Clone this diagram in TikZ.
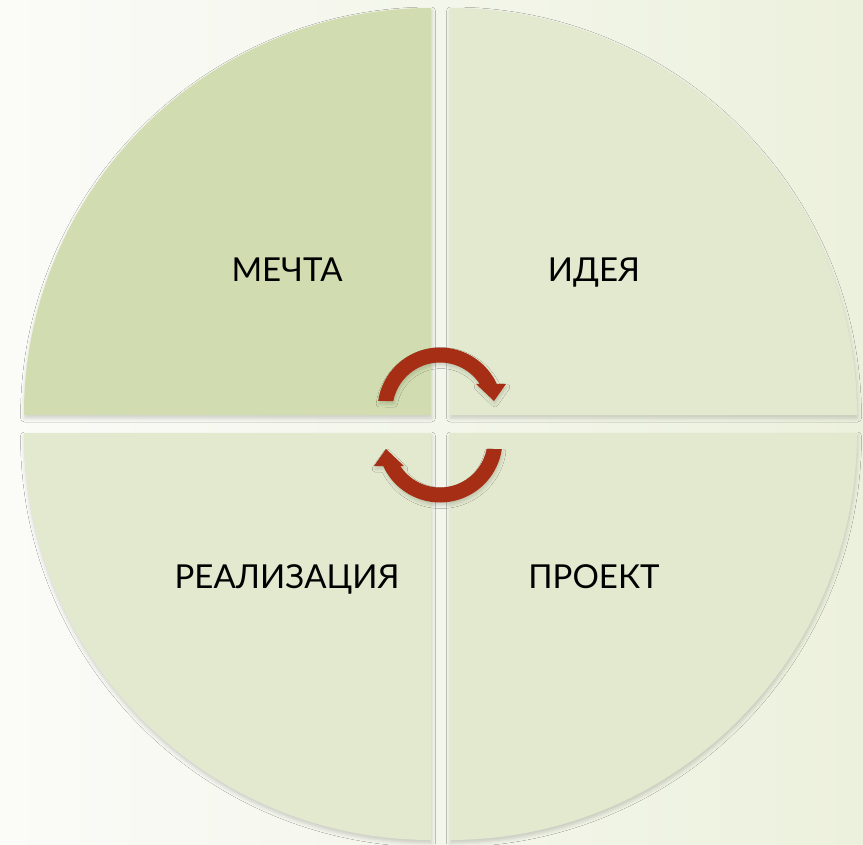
\documentclass[tikz,border=0pt]{standalone}
\usepackage{fontspec}
\setmainfont{Lato}
\usepackage{tikz}
\usetikzlibrary{shadows.blur}
\definecolor{bgleft}{RGB}{251, 251, 248}
\definecolor{bgright}{RGB}{236, 241, 221}
\definecolor{sectordark}{RGB}{209, 221, 177}
\definecolor{sectorlight}{RGB}{227, 233, 207}
\definecolor{cyclered}{RGB}{166, 46, 20}

\tikzset{
    sector/.style={fill=sectorlight, blur shadow={shadow xshift=0.5pt, shadow yshift=-3pt, shadow blur radius=4pt, shadow opacity=18}},
    phase/.style={font=\fontsize{33}{40}\selectfont, text=black, anchor=base},
    cyclearrow/.style={fill=cyclered, blur shadow={shadow xshift=1pt, shadow yshift=-3pt, shadow blur radius=3pt, shadow opacity=15}}
}

\begin{document}
\begin{tikzpicture}[x=1pt, y=-1pt]
        \useasboundingbox (0,0) rectangle (863,845);
        \shade[left color=bgleft, right color=bgright] (0,0) rectangle (863,845);
        
        \coordinate (tl) at (431,415);
        \coordinate (tr) at (450,415);
        \coordinate (bl) at (431,433);
        \coordinate (br) at (450,433);
        \def\rad{407}
        
        % Quarti del cerchio
        \path[sector, fill=sectordark] (tl) -- ++(-\rad,0) arc[start angle=180, end angle=270, radius=\rad] -- cycle;
        \path[sector] (tr) -- ++(0,-\rad) arc[start angle=270, end angle=360, radius=\rad] -- cycle;
        \path[sector] (br) -- ++(\rad,0) arc[start angle=0, end angle=90, radius=\rad] -- cycle;
        \path[sector] (bl) -- ++(0,\rad) arc[start angle=90, end angle=180, radius=\rad] -- cycle;
        
        % Testi
        \node[phase] (mechta) at (287,282) {МЕЧТА};
        \node[phase] (ideya) at (594,282) {ИДЕЯ};
        \node[phase] (realizaciya) at (287,588) {РЕАЛИЗАЦИЯ};
        \node[phase] (proekt) at (594,588) {ПРОЕКТ};
        
        % Frecce del ciclo
        \coordinate (ac) at (440,410);
        \path[cyclearrow] ([shift={(ac)}]188.3:62.5) arc[start angle=188.3, end angle=335.4, radius=62.5]
            -- (506,384) -- (494,401) -- (476,384)
            -- ([shift={(ac)}]326.8:47.5) arc[start angle=326.8, end angle=190.9, radius=47.5] -- cycle;
        \begin{scope}[rotate around={180:(440,425)}]
            \path[cyclearrow] ([shift={(ac)}]188.3:62.5) arc[start angle=188.3, end angle=335.4, radius=62.5]
                -- (506,384) -- (494,401) -- (476,384)
                -- ([shift={(ac)}]326.8:47.5) arc[start angle=326.8, end angle=190.9, radius=47.5] -- cycle;
        \end{scope}
    \end{tikzpicture}
\end{document}
